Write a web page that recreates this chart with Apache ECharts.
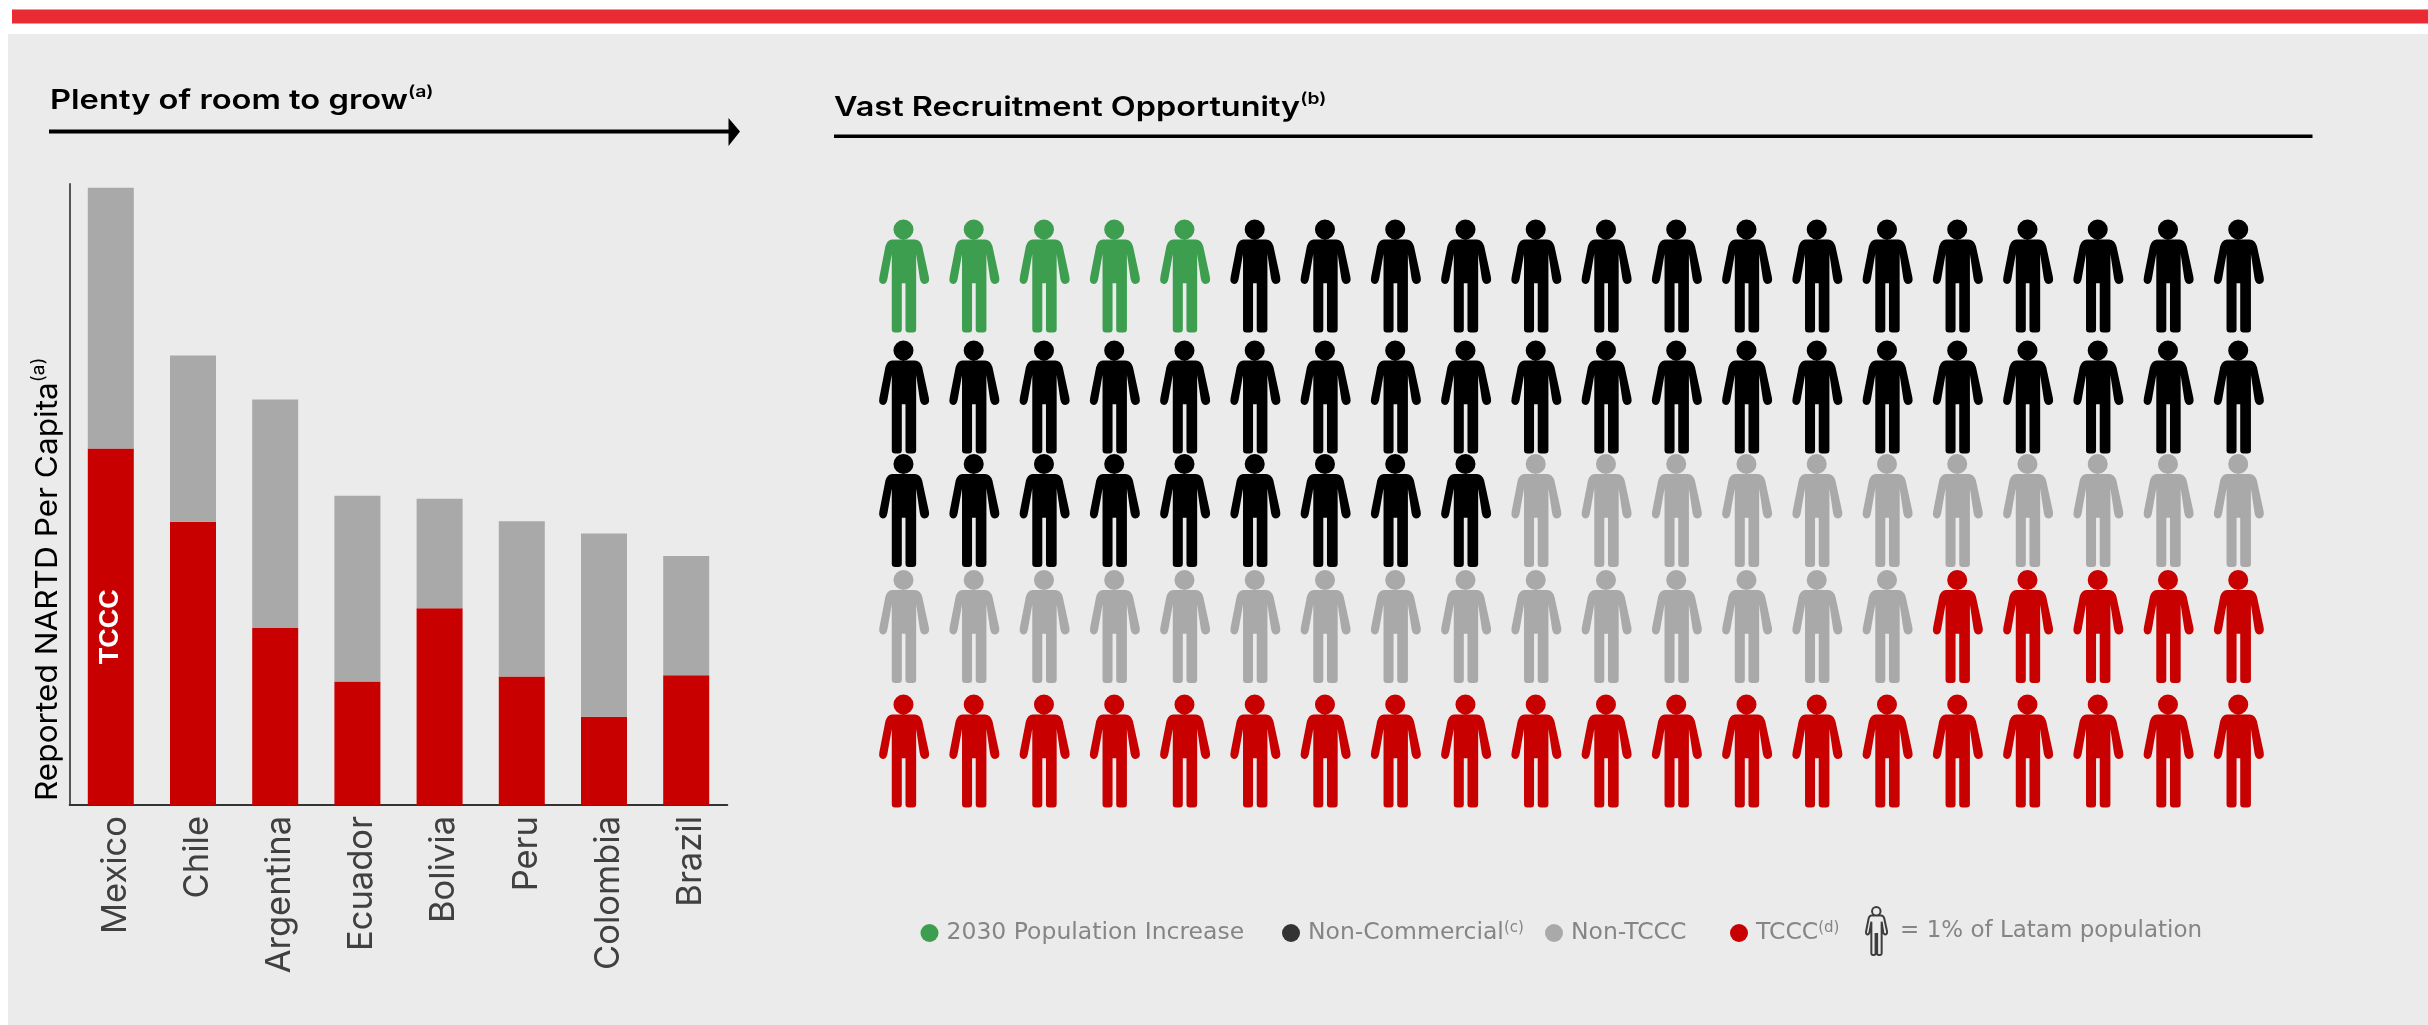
<!DOCTYPE html>
<html>
<head>
<meta charset="utf-8">
<style>html,body{margin:0;padding:0;background:#fff}#chart{width:2428px;height:1025px}</style>
<script src="https://cdn.jsdelivr.net/npm/echarts@6/dist/echarts.min.js"></script>
</head>
<body>
<div id="chart"></div>
<script>
// NARTD per capita by country, split between TCCC and everyone else
const countries = ['Mexico', 'Chile', 'Argentina', 'Ecuador', 'Bolivia', 'Peru', 'Colombia', 'Brazil'];
const tcccPerCapita = [57.4, 45.6, 28.5, 19.9, 31.7, 20.7, 14.2, 20.9];
const otherPerCapita = [42.0, 26.8, 36.8, 29.9, 17.6, 25.0, 29.5, 19.2];

// Share of the Latam population, one figure per 1%
const populationGroups = ['2030 Population Increase', 'Non-Commercial', 'Non-TCCC', 'TCCC'];
const populationShares = [5, 44, 26, 25];
const populationColors = ['#3d9e4f', '#000000', '#a9a9a9', '#c80000'];
const legendDots = ['#3d9e4f', '#333333', '#a9a9a9', '#c80000'];
const legendNotes = ['', '(c)', '', '(d)'];
const figureKey = '= 1% of Latam population';

const FONT = 'Inter, "Noto Sans", sans-serif';
const WIDE_FONT = '"DejaVu Sans", Inter, sans-serif';
const RED = '#c80000', GREY = '#a9a9a9', TEXT_GREY = '#858585';

const PERSON = 'M42 30a30 30 0 1 0 60 0a30 30 0 1 0 -60 0Z' +
  'M38 60L106 60Q122 60 128 80L148 172Q152 192 136 194Q124 194 121 178L110 104L110 330Q110 340 100 340L88 340Q78 340 78 330' +
  'L78 192L67 192L67 330Q67 340 57 340L47 340Q37 340 37 330L37 104L24 178Q21 194 10 194Q-4 192 0 172L18 80Q24 60 38 60Z';

// Rows sit on a small track measured down from the top of the figure block
const rowTrack = [60, 181, 294.5, 410.5, 535];
const COLUMNS = 20;

function buildFigures() {
  let seat = 0;
  return populationShares.map((share, g) => {
    const cells = [];
    for (let i = 0; i < share; i++, seat++) {
      cells.push([seat % COLUMNS, rowTrack[Math.floor(seat / COLUMNS)]]);
    }
    return {
      type: 'scatter', name: populationGroups[g], xAxisIndex: 1, yAxisIndex: 1,
      symbol: 'path://' + PERSON, symbolSize: [50, 113], symbolKeepAspect: false,
      itemStyle: { color: populationColors[g], opacity: 1 }, silent: true, data: cells
    };
  });
}

const legendText = {
  t: { fontFamily: WIDE_FONT, fontSize: 23.5, color: TEXT_GREY, padding: [0, 0, 0, 3], lineHeight: 24 },
  s: { fontFamily: WIDE_FONT, fontSize: 15, color: TEXT_GREY, verticalAlign: 'top', lineHeight: 24, padding: [0, 0, 8, 0] }
};
const legendLefts = [920.5, 1282, 1545, 1730];
const legends = populationGroups.map((name, i) => ({
  left: legendLefts[i], top: 921, padding: 0, orient: 'horizontal', selectedMode: false,
  itemWidth: 18, itemHeight: 18, icon: 'circle',
  data: [{ name, itemStyle: { color: legendDots[i] } }],
  formatter: n => '{t|' + n + '}' + (legendNotes[i] ? '{s|' + legendNotes[i] + '}' : ''),
  textStyle: { rich: legendText }
}));
legends.push({
  left: 1865, top: 906, padding: 0, selectedMode: false, itemWidth: 27, itemHeight: 48,
  data: [{
    name: figureKey, icon: 'path://' + PERSON,
    itemStyle: { color: 'transparent', borderColor: '#111111', borderWidth: 2 }
  }],
  formatter: n => '{t|' + n + '}',
  textStyle: { rich: { t: { ...legendText.t, fontSize: 23, padding: [0, 0, 0, 5] } } }
});

const richHead = {
  t: { fontFamily: FONT, fontSize: 27, fontWeight: 600, color: '#000', lineHeight: 34 },
  s: { fontFamily: FONT, fontSize: 16, fontWeight: 600, color: '#000', verticalAlign: 'top', lineHeight: 26, padding: [0, 0, 8, 0] }
};

const option = {
  animation: false,
  backgroundColor: '#ffffff',
  grid: [
    { left: 69.7, top: 184, width: 657.6, height: 621, containLabel: false },
    { left: 869, top: 216, width: 1405, height: 600, containLabel: false }
  ],
  xAxis: [
    {
      type: 'category', gridIndex: 0, data: countries,
      axisLine: { lineStyle: { color: '#333333', width: 2 } }, axisTick: { show: false },
      axisLabel: {
        rotate: 90, margin: 11, fontFamily: FONT, fontSize: 34.5, color: '#404040', interval: 0,
        verticalAlign: 'top', lineHeight: 9
      }
    },
    { type: 'category', gridIndex: 1, data: Array.from({ length: COLUMNS }, (_, i) => i), show: false }
  ],
  yAxis: [
    {
      type: 'value', gridIndex: 0, min: 0, max: 100, interval: 100,
      axisLine: { show: true, lineStyle: { color: '#555555', width: 2 } },
      axisTick: { show: false }, axisLabel: { show: false }, splitLine: { show: false }
    },
    { type: 'value', gridIndex: 1, min: 0, max: 600, inverse: true, show: false }
  ],
  legend: legends,
  series: [
    {
      type: 'bar', name: 'TCCC', stack: 'perCapita', barWidth: 46, itemStyle: { color: RED },
      data: tcccPerCapita.map((v, i) => i === 0 ? {
        value: v,
        label: {
          show: true, position: 'inside', rotate: 90, formatter: 'TCCC', color: '#fff',
          fontFamily: '"Liberation Sans", Arial, sans-serif', fontWeight: 'bold', fontSize: 27
        }
      } : v)
    },
    {
      type: 'bar', name: 'Non-TCCC', stack: 'perCapita', barWidth: 46, itemStyle: { color: GREY },
      data: otherPerCapita
    },
    ...buildFigures(),
    { type: 'scatter', name: figureKey, xAxisIndex: 1, yAxisIndex: 1, data: [] }
  ],
  graphic: [
    { type: 'rect', z: -10, shape: { x: 8, y: 34, width: 2420, height: 991 }, style: { fill: '#ebebeb' } },
    { type: 'rect', z: -10, shape: { x: 12, y: 9.5, width: 2416, height: 14 }, style: { fill: '#e92b33' } },
    {
      type: 'text', x: 50, y: 118, scaleX: 1.21, style: {
        text: '{t|Plenty of room to grow}{s|(a)}', rich: richHead, verticalAlign: 'bottom', align: 'left'
      }
    },
    { type: 'line', shape: { x1: 49, y1: 131.5, x2: 730, y2: 131.5 }, style: { stroke: '#000', lineWidth: 4 } },
    { type: 'polygon', shape: { points: [[728.5, 118], [740, 131.5], [728.5, 146]] }, style: { fill: '#000' } },
    {
      type: 'text', x: 834, y: 125, scaleX: 1.2, style: {
        text: '{t|Vast Recruitment Opportunity}{s|(b)}', rich: richHead, verticalAlign: 'bottom', align: 'left'
      }
    },
    { type: 'line', shape: { x1: 834, y1: 136.3, x2: 2312.5, y2: 136.3 }, style: { stroke: '#000', lineWidth: 3.5 } },
    {
      type: 'text', x: 48, y: 801, rotation: Math.PI / 2, scaleX: 1.053, style: {
        text: '{t|Reported NARTD Per Capita}{s|(a)}', align: 'left', verticalAlign: 'middle',
        rich: {
          t: { fontFamily: FONT, fontSize: 30, color: '#666666', lineHeight: 36 },
          s: { fontFamily: FONT, fontSize: 18, color: '#666666', verticalAlign: 'top', lineHeight: 26 }
        }
      }
    }
  ]
};

echarts.init(document.getElementById('chart'), null, { renderer: 'canvas' }).setOption(option);
</script>
</body>
</html>
